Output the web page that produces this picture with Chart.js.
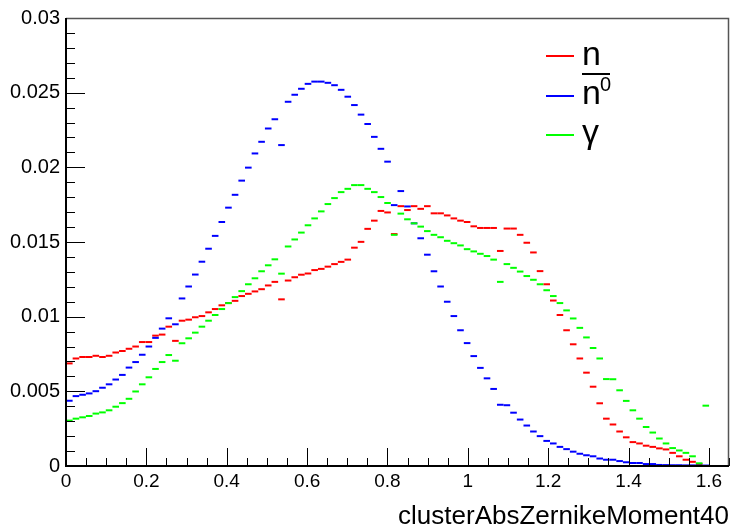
<!DOCTYPE html>
<html lang="en">
<head>
    <meta charset="UTF-8">
    <title>clusterAbsZernikeMoment40</title>
    <script src="https://cdn.jsdelivr.net/npm/chart.js"></script>
    <style>
        body {
            margin: 0;
            background: #fff;
        }
        #zernikeChart {
            display: block;
        }
    </style>
</head>
<body>

    <canvas id="zernikeChart" width="736" height="528"></canvas>

    <script>
        // Histogram binning: 100 bins on [0, 1.65]
        const binCount = 100;
        const xMin = 0;
        const xMax = 1.65;
        const binWidth = (xMax - xMin) / binCount;
        const binCenters = Array.from({ length: binCount }, (_, i) => xMin + (i + 0.5) * binWidth);

        // Normalised bin contents, bins 0..96
        const neutron = [
            0.00687, 0.00720, 0.00730, 0.00730, 0.00738, 0.00730, 0.00738, 0.00760, 0.00770, 0.00785,
            0.00800, 0.00830, 0.00830, 0.00873, 0.00880, 0.00933, 0.00838, 0.00973, 0.00980, 0.00996,
            0.01004, 0.01029, 0.01051, 0.01076, 0.01091, 0.01106, 0.01138, 0.01153, 0.01169, 0.01184,
            0.01209, 0.01233, 0.01116, 0.01242, 0.01264, 0.01281, 0.01289, 0.01312, 0.01320, 0.01335,
            0.01352, 0.01367, 0.01382, 0.01462, 0.01501, 0.01588, 0.01643, 0.01708, 0.01698, 0.01553,
            0.01740, 0.01714, 0.01740, 0.01722, 0.01740, 0.01692, 0.01692, 0.01678, 0.01658, 0.01643,
            0.01634, 0.01605, 0.01594, 0.01594, 0.01594, 0.01440, 0.01590, 0.01590, 0.01548, 0.01495,
            0.01430, 0.01305, 0.01217, 0.01108, 0.01011, 0.00909, 0.00815, 0.00720, 0.00625, 0.00531,
            0.00420, 0.00317, 0.00278, 0.00231, 0.00192, 0.00160, 0.00151, 0.00136, 0.00128, 0.00118,
            0.00111, 0.00088, 0.00065, 0.00042, 0.00028, 0.00013, null
        ];
        const antiNeutron = [
            0.00437, 0.00468, 0.00477, 0.00486, 0.00501, 0.00524, 0.00547, 0.00579, 0.00610, 0.00659,
            0.00696, 0.00745, 0.00800, 0.00858, 0.00920, 0.00989, 0.00949, 0.01122, 0.01202, 0.01282,
            0.01368, 0.01455, 0.01541, 0.01634, 0.01730, 0.01816, 0.01911, 0.01998, 0.02093, 0.02171,
            0.02260, 0.02322, 0.02149, 0.02439, 0.02486, 0.02526, 0.02559, 0.02574, 0.02574, 0.02566,
            0.02550, 0.02519, 0.02473, 0.02417, 0.02353, 0.02290, 0.02204, 0.02124, 0.02038, 0.01747,
            0.01841, 0.01738, 0.01625, 0.01525, 0.01415, 0.01304, 0.01202, 0.01100, 0.01004, 0.00909,
            0.00823, 0.00736, 0.00657, 0.00587, 0.00516, 0.00410, 0.00407, 0.00357, 0.00311, 0.00271,
            0.00231, 0.00200, 0.00168, 0.00151, 0.00128, 0.00113, 0.00096, 0.00082, 0.00072, 0.00065,
            0.00050, 0.00042, 0.00042, 0.00033, 0.00025, 0.00020, 0.00020, 0.00013, 0.00013, 0.00007,
            0.00006, 0.00005, 0.00005, 0.00004, 0.00004, 0.00003, 0.00003
        ];
        const photon = [
            0.00304, 0.00317, 0.00326, 0.00335, 0.00351, 0.00359, 0.00373, 0.00397, 0.00421, 0.00450,
            0.00499, 0.00547, 0.00594, 0.00650, 0.00696, 0.00743, 0.00705, 0.00822, 0.00855, 0.00893,
            0.00933, 0.00973, 0.01011, 0.01051, 0.01091, 0.01131, 0.01171, 0.01217, 0.01257, 0.01304,
            0.01344, 0.01384, 0.01288, 0.01470, 0.01517, 0.01563, 0.01612, 0.01658, 0.01705, 0.01754,
            0.01794, 0.01834, 0.01856, 0.01881, 0.01881, 0.01856, 0.01834, 0.01801, 0.01761, 0.01548,
            0.01690, 0.01652, 0.01625, 0.01603, 0.01573, 0.01548, 0.01532, 0.01508, 0.01492, 0.01477,
            0.01452, 0.01437, 0.01421, 0.01406, 0.01382, 0.01233, 0.01352, 0.01327, 0.01302, 0.01272,
            0.01247, 0.01217, 0.01177, 0.01138, 0.01091, 0.01042, 0.00988, 0.00925, 0.00861, 0.00790,
            0.00720, 0.00582, 0.00581, 0.00507, 0.00436, 0.00373, 0.00317, 0.00261, 0.00224, 0.00184,
            0.00151, 0.00120, 0.00104, 0.00088, 0.00065, 0.00018, 0.00404
        ];

        const xTickValues = [0, 0.2, 0.4, 0.6, 0.8, 1, 1.2, 1.4, 1.6];
        const xTickLabels = ['0', '0.2', '0.4', '0.6', '0.8', '1', '1.2', '1.4', '1.6'];
        const yTickValues = [0, 0.005, 0.01, 0.015, 0.02, 0.025, 0.03];
        const yTickLabels = ['0', '0.005', '0.01', '0.015', '0.02', '0.025', '0.03'];

        const FONT = "'Liberation Sans', Arial, sans-serif";

        function toPoints(values) {
            return values.map((v, i) => ({ x: binCenters[i], y: v }));
        }

        function histDataset(label, values, color, order) {
            return {
                label: label,
                data: toPoints(values),
                showLine: false,
                pointStyle: 'line',
                pointRadius: 3.3,
                pointHoverRadius: 3.3,
                pointBorderWidth: 2,
                borderColor: color,
                backgroundColor: color,
                order: order
            };
        }

        // ROOT-like frame with inward major/minor ticks
        const frameTicks = {
            id: 'frameTicks',
            afterDraw(chart) {
                const { ctx, chartArea: a, scales: { x, y } } = chart;
                ctx.save();
                ctx.strokeStyle = '#000';
                ctx.lineWidth = 1;
                ctx.beginPath();
                for (let k = 0; k <= 30; k++) {
                    const py = Math.round(y.getPixelForValue(k * 0.001)) + 0.5;
                    const len = k % 5 === 0 ? 19 : 9;
                    ctx.moveTo(a.left, py);
                    ctx.lineTo(a.left + len, py);
                }
                for (let k = 0; k <= 33; k++) {
                    const px = Math.round(x.getPixelForValue(k * 0.05)) + 0.5;
                    const len = k % 4 === 0 ? 18 : 8;
                    ctx.moveTo(px, a.bottom);
                    ctx.lineTo(px, a.bottom - len);
                }
                ctx.stroke();

                ctx.strokeStyle = '#555';
                ctx.lineWidth = 1.5;
                ctx.beginPath();
                ctx.moveTo(a.left, a.top + 0.5);
                ctx.lineTo(a.right - 0.5, a.top + 0.5);
                ctx.lineTo(a.right - 0.5, a.bottom);
                ctx.stroke();

                ctx.strokeStyle = '#000';
                ctx.lineWidth = 2;
                ctx.beginPath();
                ctx.moveTo(a.left, a.top);
                ctx.lineTo(a.left, a.bottom);
                ctx.lineTo(a.right, a.bottom);
                ctx.stroke();
                ctx.restore();
            }
        };

        // Legend box: line sample followed by particle symbol
        const particleLegend = {
            id: 'particleLegend',
            afterDraw(chart) {
                const { ctx } = chart;
                const sets = chart.data.datasets;
                const rows = [56, 96, 135];
                ctx.save();
                ctx.font = '34px ' + FONT;
                ctx.fillStyle = '#000';
                ctx.textBaseline = 'alphabetic';
                rows.forEach((ry, i) => {
                    ctx.strokeStyle = sets[i].borderColor;
                    ctx.lineWidth = 2;
                    ctx.beginPath();
                    ctx.moveTo(546, ry);
                    ctx.lineTo(574, ry);
                    ctx.stroke();
                });
                ctx.fillText('n', 582, 65);

                ctx.fillText('n', 582, 104);
                ctx.font = '20px ' + FONT;
                ctx.fillText('0', 600, 91);
                ctx.strokeStyle = '#000';
                ctx.lineWidth = 2;
                ctx.beginPath();
                ctx.moveTo(582, 74);
                ctx.lineTo(610, 74);
                ctx.stroke();

                ctx.font = '34px ' + FONT;
                ctx.fillText('\u03b3', 582, 143);
                ctx.restore();
            }
        };

        new Chart(document.getElementById('zernikeChart'), {
            type: 'scatter',
            data: {
                datasets: [
                    histDataset('n', neutron, '#ff0000', 3),
                    histDataset('n\u0304\u2070', antiNeutron, '#0000ff', 2),
                    histDataset('\u03b3', photon, '#00ff00', 1)
                ]
            },
            options: {
                responsive: false,
                animation: false,
                layout: { padding: { left: 0, top: 15, right: 7, bottom: 0 } },
                plugins: {
                    legend: { display: false },
                    tooltip: { enabled: false }
                },
                scales: {
                    x: {
                        type: 'linear',
                        min: xMin,
                        max: xMax,
                        afterBuildTicks: (scale) => { scale.ticks = xTickValues.map(v => ({ value: v })); },
                        afterFit: (scale) => { scale.height = 62; },
                        grid: { display: false, drawTicks: false },
                        border: { display: false },
                        ticks: {
                            autoSkip: false,
                            maxRotation: 0,
                            padding: 4,
                            color: '#000',
                            font: { family: FONT, size: 19 },
                            callback: (v, i) => xTickLabels[i]
                        },
                        title: {
                            display: true,
                            text: 'clusterAbsZernikeMoment40',
                            align: 'end',
                            color: '#000',
                            font: { family: FONT, size: 26 },
                            padding: { top: 0, bottom: -4 }
                        }
                    },
                    y: {
                        type: 'linear',
                        min: 0,
                        max: 0.03,
                        afterBuildTicks: (scale) => { scale.ticks = yTickValues.map(v => ({ value: v })); },
                        afterFit: (scale) => { scale.width = 66; },
                        grid: { display: false, drawTicks: false },
                        border: { display: false },
                        ticks: {
                            autoSkip: false,
                            padding: 6,
                            color: '#000',
                            font: { family: FONT, size: 20 },
                            callback: (v, i) => yTickLabels[i]
                        }
                    }
                }
            },
            plugins: [frameTicks, particleLegend]
        });
    </script>

</body>
</html>
